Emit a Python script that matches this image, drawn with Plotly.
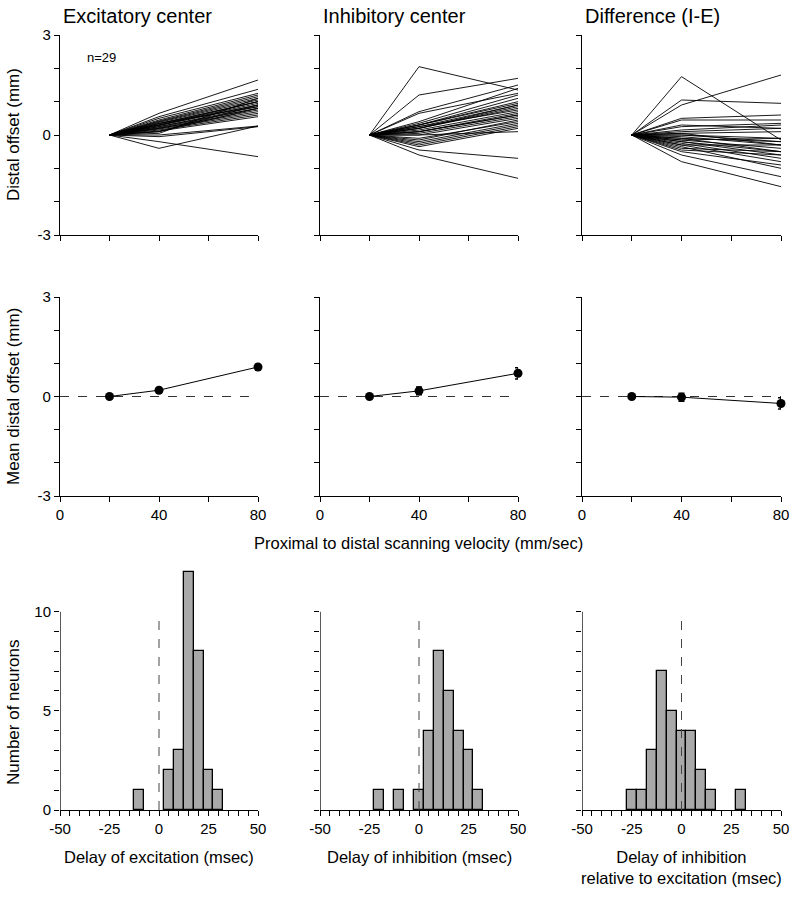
import plotly.graph_objects as go

# ---------------- data ----------------
velocities = [20, 40, 80]

# individual neurons: distal offset (mm) at 40 and 80 mm/s (0 at 20 mm/s)
exc_40 = [0.65, 0.55, 0.5, 0.45, 0.42, 0.4, 0.38, 0.35, 0.33, 0.3, 0.3, 0.28, 0.25, 0.25, 0.22,
          0.2, 0.2, 0.18, 0.15, 0.12, 0.1, 0.1, 0.05, 0.0, -0.05, -0.2, -0.4, 0.3, 0.35]
exc_80 = [1.65, 1.37, 1.25, 1.2, 1.15, 1.1, 1.05, 1.0, 1.0, 0.95, 0.9, 0.9, 0.85, 0.8, 0.8,
          0.75, 0.7, 0.65, 0.6, 0.55, 0.8, 0.9, 1.1, 0.27, 0.25, -0.65, 0.27, 1.0, 0.85]

inh_40 = [2.05, 1.2, 0.7, 0.65, 0.4, 0.35, 0.3, 0.3, 0.25, 0.2, 0.2, 0.15, 0.1, 0.1, 0.05,
          0.0, 0.0, -0.1, -0.2, -0.25, -0.3, -0.35, -0.45, -0.6, 0.3, 0.25, -0.15, 0.1, 0.2]
inh_80 = [1.35, 1.7, 1.5, 1.25, 1.4, 1.2, 1.0, 0.95, 0.9, 0.85, 0.8, 0.7, 0.65, 0.6, 0.55,
          0.1, 0.5, 0.4, 0.35, 0.3, 0.25, 0.2, -0.7, -1.3, 1.1, 0.75, 0.45, 0.6, 0.9]

dif_40 = [1.75, 1.05, 0.9, 0.5, 0.45, 0.25, 0.15, 0.1, 0.05, 0.0, 0.0, -0.05, -0.1, -0.1, -0.15,
          -0.2, -0.2, -0.25, -0.3, -0.3, -0.35, -0.4, -0.45, -0.5, -0.6, -0.8, 0.3, -0.15, 0.05]
dif_80 = [-0.15, 0.95, 1.8, 0.6, 0.45, 0.35, 0.3, 0.2, 0.1, -0.1, -0.2, -0.3, -0.2, -0.5, -0.4,
          -0.6, -0.5, -0.7, -0.8, -0.3, -1.0, -0.5, -0.6, -0.9, -1.25, -1.55, 0.2, -0.1, -0.3]

# means and SE
exc_mean = [0.0, 0.19, 0.89]
exc_se = [0.03, 0.06, 0.08]
inh_mean = [0.0, 0.17, 0.70]
inh_se = [0.03, 0.12, 0.17]
dif_mean = [0.0, -0.02, -0.21]
dif_se = [0.03, 0.12, 0.17]

# histograms (bin centers in msec, counts)
exc_bins = [-10, 5, 10, 15, 20, 25, 30]
exc_counts = [1, 2, 3, 12, 8, 2, 1]
inh_bins = [-20, -10, 0, 5, 10, 15, 20, 25, 30]
inh_counts = [1, 1, 1, 4, 8, 6, 4, 3, 1]
rel_bins = [-25, -20, -15, -10, -5, 0, 5, 10, 15, 30]
rel_counts = [1, 1, 3, 7, 5, 4, 4, 2, 1, 1]

col_titles = ["Excitatory center", "Inhibitory center", "Difference (I-E)"]
hist_titles = ["Delay of excitation (msec)", "Delay of inhibition (msec)",
               "Delay of inhibition<br>relative to excitation (msec)"]

# ---------------- layout helpers ----------------
W, H = 794, 900
FONT = "Liberation Sans, Arial, Helvetica, sans-serif"
col_px = [(60, 258), (320, 518), (582, 781)]
row_px = [(35, 235), (297, 496), (568, 810)]

def xd(c):
    return [col_px[c][0] / W, col_px[c][1] / W]

def yd(r):
    return [1 - row_px[r][1] / H, 1 - row_px[r][0] / H]

fig = go.Figure()
layout = {}

def axname(i):
    return "" if i == 1 else str(i)

panel_lines = [(exc_40, exc_80), (inh_40, inh_80), (dif_40, dif_80)]
panel_means = [(exc_mean, exc_se), (inh_mean, inh_se), (dif_mean, dif_se)]
panel_hist = [(exc_bins, exc_counts), (inh_bins, inh_counts), (rel_bins, rel_counts)]

axis_common = dict(showgrid=False, zeroline=False, showline=True, linecolor="black",
                   linewidth=1.3, ticks="outside", tickcolor="black", tickwidth=1.2,
                   ticklen=5, automargin=False,
                   tickfont=dict(family=FONT, size=15, color="black"))

for c in range(3):
    # ---- top row ----
    i = 1 + c
    n = axname(i)
    xa, ya = "x" + n, "y" + n
    for v40, v80 in zip(*panel_lines[c]):
        fig.add_trace(go.Scatter(x=velocities, y=[0, v40, v80], mode="lines",
                                 line=dict(color="black", width=0.9),
                                 xaxis=xa, yaxis=ya, showlegend=False, hoverinfo="skip"))
    layout["xaxis" + n] = dict(axis_common, domain=xd(c), range=[0, 80], anchor=ya,
                               tickvals=[0, 20, 40, 60, 80], ticktext=[""] * 5)
    layout["yaxis" + n] = dict(axis_common, domain=yd(0), range=[-3, 3], anchor=xa,
                               tickvals=[-3, -2, -1, 0, 1, 2, 3],
                               ticktext=(["-3", "", "", "0", "", "", "3"] if c == 0 else [""] * 7))

    # ---- middle row ----
    i = 4 + c
    n = axname(i)
    xa, ya = "x" + n, "y" + n
    fig.add_trace(go.Scatter(x=[0, 80], y=[0, 0], mode="lines",
                             line=dict(color="#333333", width=1, dash="dash"),
                             xaxis=xa, yaxis=ya, showlegend=False, hoverinfo="skip"))
    m, se = panel_means[c]
    fig.add_trace(go.Scatter(x=velocities, y=m, mode="lines+markers",
                             line=dict(color="black", width=1),
                             marker=dict(color="black", size=9),
                             error_y=dict(type="data", array=se, color="black",
                                          thickness=1.5, width=3),
                             cliponaxis=False,
                             xaxis=xa, yaxis=ya, showlegend=False, hoverinfo="skip"))
    layout["xaxis" + n] = dict(axis_common, domain=xd(c), range=[0, 80], anchor=ya,
                               tickvals=[0, 20, 40, 60, 80], ticktext=["0", "", "40", "", "80"])
    layout["yaxis" + n] = dict(axis_common, domain=yd(1), range=[-3, 3], anchor=xa,
                               tickvals=[-3, -2, -1, 0, 1, 2, 3],
                               ticktext=(["-3", "", "", "0", "", "", "3"] if c == 0 else [""] * 7))

    # ---- bottom row (histograms) ----
    i = 7 + c
    n = axname(i)
    xa, ya = "x" + n, "y" + n
    b, cnt = panel_hist[c]
    fig.add_trace(go.Bar(x=b, y=cnt, width=5,
                         marker=dict(color="#a9a9a9", line=dict(color="black", width=1.3)),
                         xaxis=xa, yaxis=ya, showlegend=False, hoverinfo="skip"))
    fig.add_trace(go.Scatter(x=[0, 0], y=[0, 9.75], mode="lines",
                             line=dict(color="#444444", width=1, dash="dash"),
                             xaxis=xa, yaxis=ya, showlegend=False, hoverinfo="skip"))
    xt = list(range(-50, 55, 5))
    layout["xaxis" + n] = dict(axis_common, domain=xd(c), range=[-50, 50], anchor=ya,
                               tickvals=xt,
                               ticktext=[str(v) if v % 25 == 0 else "" for v in xt])
    yt = list(range(0, 11))
    layout["yaxis" + n] = dict(axis_common, domain=yd(2), range=[0, 12.2], anchor=xa,
                               showline=False, tickvals=yt,
                               ticktext=([str(v) if v % 5 == 0 else "" for v in yt]
                                         if c == 0 else [""] * 11))

shapes = []
for c in range(3):
    n = axname(7 + c)
    shapes.append(dict(type="line", xref="x" + n, yref="y" + n, x0=-50, x1=-50, y0=0, y1=10,
                       line=dict(color="black", width=1.3), layer="above"))

annotations = []
for c in range(3):
    annotations.append(dict(text=col_titles[c], x=(col_px[c][0] + 1) / W, y=1 - 16 / H,
                            xref="paper", yref="paper", xanchor="left", yanchor="middle",
                            showarrow=False, font=dict(family=FONT, size=20, color="black")))
    annotations.append(dict(text=hist_titles[c], x=(col_px[c][0] + col_px[c][1]) / 2 / W,
                            y=1 - 846 / H, xref="paper", yref="paper", xanchor="center",
                            yanchor="top", showarrow=False, align="center",
                            font=dict(family=FONT, size=16.5, color="black")))

annotations.append(dict(text="n=29", x=85 / W, y=1 - 57 / H, xref="paper", yref="paper",
                        xanchor="left", yanchor="middle", showarrow=False,
                        font=dict(family=FONT, size=13, color="black")))
annotations.append(dict(text="Proximal to distal scanning velocity (mm/sec)", x=418 / W,
                        y=1 - 543 / H, xref="paper", yref="paper", xanchor="center",
                        yanchor="middle", showarrow=False,
                        font=dict(family=FONT, size=16.5, color="black")))
for txt, yc in [("Distal offset (mm)", 135), ("Mean distal offset (mm)", 397),
                ("Number of neurons", 712)]:
    annotations.append(dict(text=txt, x=13 / W, y=1 - yc / H, xref="paper", yref="paper",
                            xanchor="center", yanchor="middle", textangle=-90,
                            showarrow=False, font=dict(family=FONT, size=17, color="black")))

fig.update_layout(**layout)
fig.update_layout(width=W, height=H, margin=dict(l=0, r=0, t=0, b=0, autoexpand=False),
                  paper_bgcolor="white", plot_bgcolor="white",
                  shapes=shapes, annotations=annotations, showlegend=False,
                  bargap=0)

fig.write_html("out.html",
               config={"displayModeBar": False},
               post_script="document.body.style.margin='0px';"
                           "document.body.style.overflow='hidden';")
